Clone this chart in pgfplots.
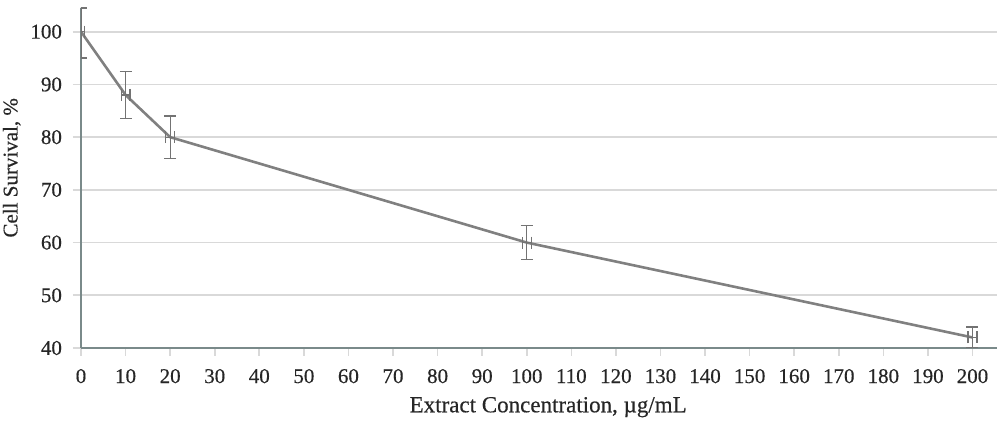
\documentclass[border=0pt]{standalone}
\usepackage{pgfplots}
\pgfplotsset{compat=1.18}
\usepackage{fontspec}
\setmainfont{Liberation Serif}
\newfontfamily\chartfont{Liberation Serif}[FakeBold=0.4]
\definecolor{axcol}{HTML}{7A8A8A}
\definecolor{gridcol}{HTML}{D9D9D9}
\definecolor{linecol}{HTML}{808080}
\begin{document}
\begin{tikzpicture}
\begin{axis}[name=ax,
  scale only axis, width=458pt, height=170pt,
  xmin=0, xmax=205.5, ymin=40, ymax=104.5,
  axis x line*=bottom, axis y line*=left,
  axis line style={axcol, line width=1.1pt, -},
  xtick={0,10,...,200}, ytick={40,50,...,100},
  ymajorgrids, grid style={gridcol, line width=0.9pt},
  tick style={gridcol, line width=0.8pt},
  major tick length=4pt, tick align=outside,
  xtick pos=bottom, ytick pos=left,
  tick label style={font=\chartfont\fontsize{10.5}{12}\selectfont, text=black!85},
  /pgf/number format/assume math mode=true,
  xticklabel style={yshift=-3pt},
  yticklabel style={xshift=-2pt},
  xlabel={Extract Concentration, µg/mL},
  ylabel={Cell Survival, \%},
  xlabel style={font=\chartfont\fontsize{11.5}{13}\selectfont, text=black!85, at={(axis description cs:0.51,0)}, anchor=north, yshift=-21pt},
  ylabel style={font=\chartfont\fontsize{10.5}{12}\selectfont, text=black!85, at={(ticklabel cs:0.53)}, yshift=-2pt},
]
\addplot[linecol, line width=1.3pt,
  error bars/.cd,
  x dir=both, x explicit, y dir=both, y explicit,
  error bar style={color=black!55, line width=0.6pt},
  error mark options={rotate=90, mark size=3pt, color=black!55, line width=0.6pt}]
  table[x=x, y=y, x error=ex, y error plus=eyp, y error minus=eym] {
x   y    ex  eyp eym
0   100  0.8 4.5 5.0
10  88.0 1.0 4.5 4.5
20  80.0 1.0 4.0 4.0
100 60.0 1.0 3.2 3.2
200 42.0 1.0 2.0 2.0
};
\end{axis}
\pgfresetboundingbox
\path[use as bounding box] ([xshift=-40.5pt,yshift=-39.5pt]ax.south west) rectangle ([xshift=1.5pt,yshift=4pt]ax.north east);
\end{tikzpicture}
\end{document}
